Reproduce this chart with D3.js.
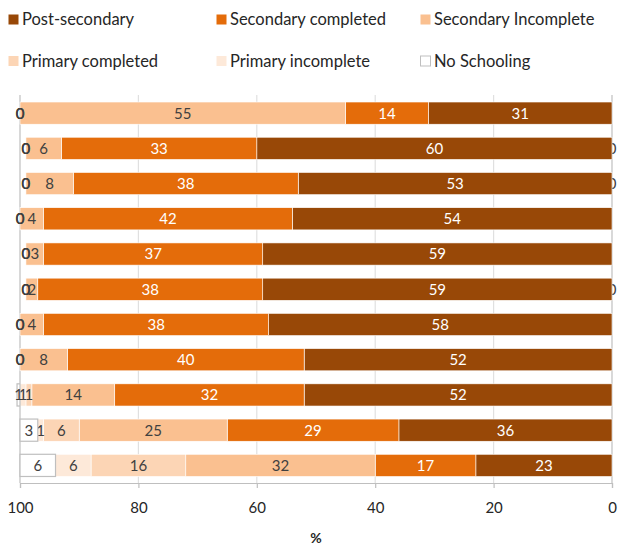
<!DOCTYPE html>
<html>
<head>
<meta charset="utf-8">
<script src="https://cdn.jsdelivr.net/npm/d3@7"></script>
<style>
  body { margin: 0; background: #fff; }
  svg { display: block; font-family: Lato, "Open Sans", sans-serif; }
</style>
</head>
<body>
<svg id="chart" width="618" height="547"></svg>
<script>
// Rows from top to bottom (no category labels shown in the reference)
const rows = ["r1","r2","r3","r4","r5","r6","r7","r8","r9","r10","r11"];
// Series in stack order, starting at 0 (right) and growing to 100 (left)
const otherVals      = [null, 0, 0, null, null, 0, null, null, null, null, null];
const postSecondary  = [31, 60, 53, 54, 59, 59, 58, 52, 52, 36, 23];
const secCompleted   = [14, 33, 38, 42, 37, 38, 38, 40, 32, 29, 17];
const secIncomplete  = [55,  6,  8,  4,  3,  2,  4,  8, 14, 25, 32];
const primCompleted  = [ 0,  0,  0,  0,  0,  0,  0,  0,  1,  6, 16];
const primIncomplete = [ 0,  0,  0,  0,  0,  0,  0,  0,  1,  1,  6];
const noSchooling    = [ 0,  0,  0,  0,  0,  0,  0,  0,  1,  3,  6];
// actual drawn widths for tiny segments (rounded labels shown)
const drawnNoSchooling = [0, 0, 0, 0, 0, 0, 0, 0, 0.5, 3, 6];
const xTicks = [100, 80, 60, 40, 20, 0];

const series = [
  {name: "Other", vals: otherVals, fill: "none", text: "#404040", legend: false},
  {name: "Post-secondary", vals: postSecondary, fill: "#984807", text: "#ffffff", legend: true},
  {name: "Secondary completed", vals: secCompleted, fill: "#E46C0A", text: "#ffffff", legend: true},
  {name: "Secondary Incomplete", vals: secIncomplete, fill: "#FAC090", text: "#404040", legend: true},
  {name: "Primary completed", vals: primCompleted, fill: "#FCD5B5", text: "#404040", legend: true},
  {name: "Primary incomplete", vals: primIncomplete, fill: "#FDE9D9", text: "#404040", legend: true},
  {name: "No Schooling", vals: noSchooling, drawn: drawnNoSchooling, fill: "#ffffff", stroke: "#BFBFBF", text: "#404040", legend: true}
];

const svg = d3.select("#chart");
const x = d3.scaleLinear().domain([100, 0]).range([20, 612]);
const y = d3.scaleBand().domain(rows).range([95.5, 483]).paddingInner(0.37).paddingOuter(0.185);

// gridlines
svg.append("g").selectAll("line").data(xTicks).join("line")
  .attr("x1", d => x(d)).attr("x2", d => x(d))
  .attr("y1", 95).attr("y2", 483)
  .attr("stroke", d => (d === 0 || d === 100) ? "#BFBFBF" : "#E0E0E0")
  .attr("stroke-width", 1.2);

// bars
rows.forEach((r, i) => {
  let cum = 0;
  series.forEach(s => {
    const v = s.vals[i];
    if (v === null) return;
    const w = s.drawn ? s.drawn[i] : v;
    const x0 = cum, x1 = cum + w;
    cum = x1;
    const g = svg.append("g");
    if (w > 0 && s.fill !== "none") {
      g.append("rect")
        .attr("x", x(x1)).attr("y", y(r))
        .attr("width", x(x0) - x(x1)).attr("height", y.bandwidth())
        .attr("fill", s.fill)
        .attr("stroke", s.stroke || "#ffffff")
        .attr("stroke-width", s.stroke ? 1.2 : 0.6);
    }
    g.append("text")
      .attr("x", x((x0 + x1) / 2))
      .attr("y", y(r) + y.bandwidth() / 2)
      .attr("dy", "0.36em")
      .attr("text-anchor", "middle")
      .attr("font-size", 15)
      .attr("fill", s.text)
      .text(v);
  });
});

// x axis
const axis = d3.axisBottom(x).tickValues(xTicks).tickSize(5).tickPadding(14);
const ax = svg.append("g").attr("transform", "translate(0,483)").call(axis);
ax.select(".domain").attr("stroke", "#BFBFBF").attr("stroke-width", 1.2);
ax.selectAll(".tick line").attr("stroke", "#BFBFBF").attr("stroke-width", 1.2);
ax.selectAll(".tick text").attr("font-size", 15).attr("fill", "#262626")
  .attr("font-family", "Lato, 'Open Sans', sans-serif");

svg.append("text").attr("x", 316).attr("y", 543)
  .attr("text-anchor", "middle").attr("font-size", 14).attr("font-weight", "bold")
  .attr("fill", "#262626").text("%");

// legend
const legendItems = series.filter(s => s.legend);
const legX = [8, 216, 420];
const legY = [19.5, 61];
legendItems.forEach((s, i) => {
  const lx = legX[i % 3], ly = legY[Math.floor(i / 3)];
  svg.append("rect").attr("x", lx + 0.5).attr("y", ly - 5).attr("width", 10).attr("height", 10)
    .attr("fill", s.fill).attr("stroke", s.stroke || "none").attr("stroke-width", 1);
  svg.append("text").attr("x", lx + 14).attr("y", ly).attr("dy", "0.35em")
    .attr("font-size", 16.5).attr("fill", "#262626").text(s.name);
});
</script>
</body>
</html>
